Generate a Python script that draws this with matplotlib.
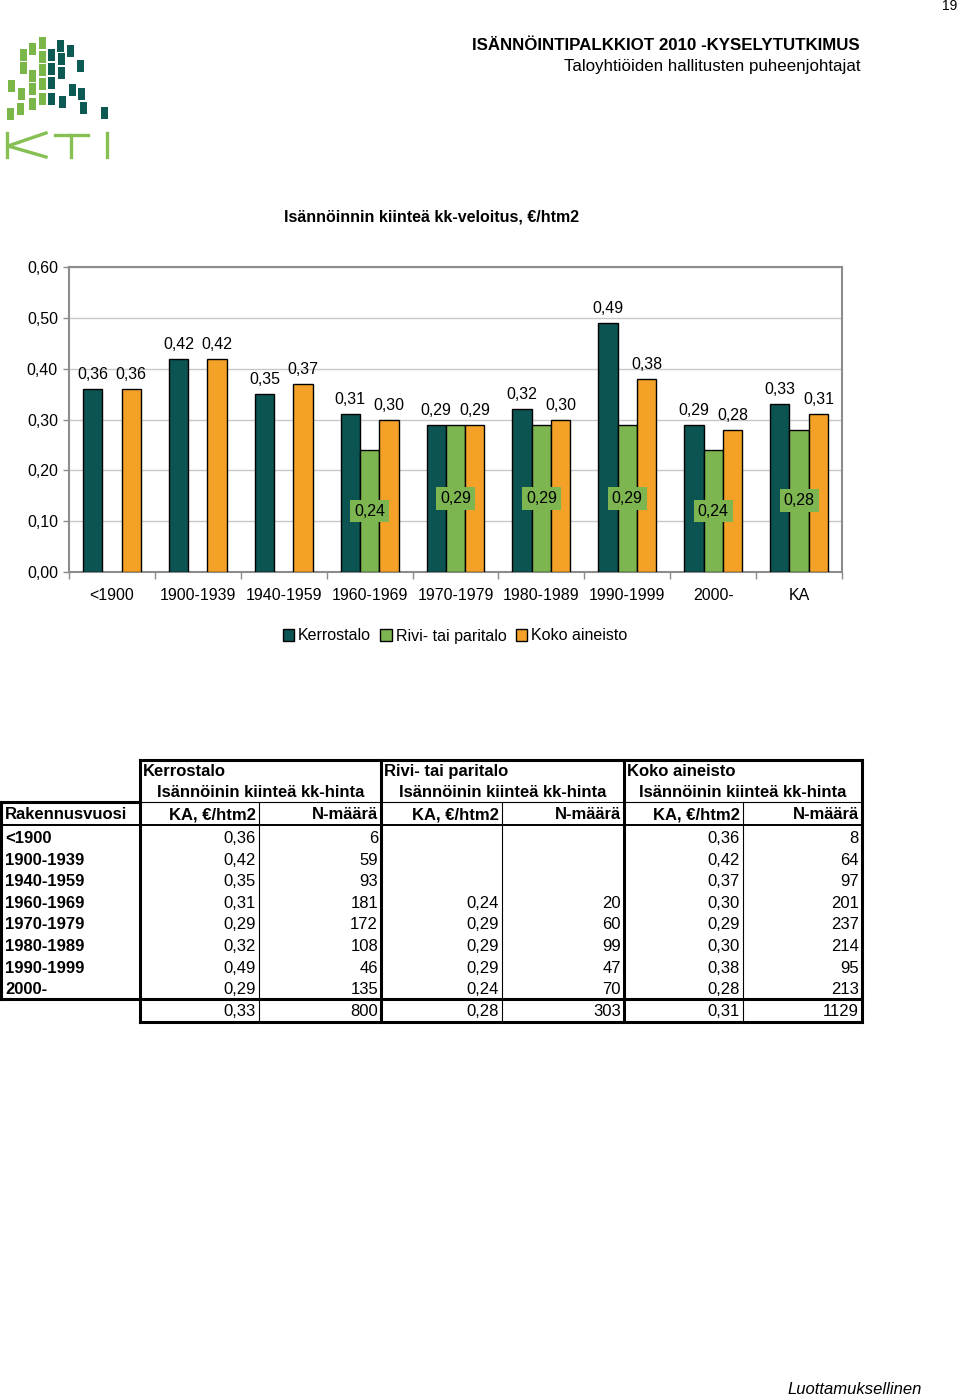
import matplotlib
matplotlib.use('Agg')
import matplotlib.pyplot as plt
from matplotlib.patches import Rectangle
import numpy as np

plt.rcParams['font.family'] = ['Liberation Sans', 'DejaVu Sans']

# --- data ---
periods = ['<1900', '1900-1939', '1940-1959', '1960-1969', '1970-1979',
           '1980-1989', '1990-1999', '2000-']
series = ['Kerrostalo', 'Rivi- tai paritalo', 'Koko aineisto']

kerros_ka = [0.36, 0.42, 0.35, 0.31, 0.29, 0.32, 0.49, 0.29]
kerros_n = [6, 59, 93, 181, 172, 108, 46, 135]
kerros_tot = [0.33, 800]
rivi_ka = [None, None, None, 0.24, 0.29, 0.29, 0.29, 0.24]
rivi_n = [None, None, None, 20, 60, 99, 47, 70]
rivi_tot = [0.28, 303]
koko_ka = [0.36, 0.42, 0.37, 0.30, 0.29, 0.30, 0.38, 0.28]
koko_n = [8, 64, 97, 201, 237, 214, 95, 213]
koko_tot = [0.31, 1129]

colors = ['#0b5452', '#7db550', '#f4a128']
grey = '#8c8c8c'

# chart = the periods plus the overall mean "KA"
categories = periods + ['KA']
chart_vals = [kerros_ka + [kerros_tot[0]],
              rivi_ka + [rivi_tot[0]],
              koko_ka + [koko_tot[0]]]


def fi(v):
    # finnish decimal comma
    return '{0:.2f}'.format(v).replace('.', ',')


W, H = 960, 1396
fig = plt.figure(figsize=(W / 100, H / 100), dpi=100)

# overlay in page pixels for header, logo and table
page = fig.add_axes([0, 0, 1, 1])
page.set_xlim(0, W)
page.set_ylim(H, 0)
page.axis('off')

page.text(957, 6, '19', ha='right', va='center', fontsize=10)
page.text(860, 45, 'ISÄNNÖINTIPALKKIOT 2010 -KYSELYTUTKIMUS', ha='right',
          va='center', fontsize=12.2, fontweight='bold')
page.text(860, 67, 'Taloyhtiöiden hallitusten puheenjohtajat', ha='right',
          va='center', fontsize=12.2)
page.text(922, 1389, 'Luottamuksellinen', ha='right', va='center',
          fontsize=12, style='italic')

# KTI logo, rough drawing of the squares and the thin letters
logo_green = [(39, 37), (29, 43), (20, 49), (39, 51), (20, 62), (39, 64),
              (29, 70), (8, 80), (39, 78), (29, 83), (18, 88), (39, 93),
              (29, 98), (17, 103), (7, 108)]
logo_dark = [(57, 40), (67, 45), (48, 49), (58, 53), (77, 60), (48, 63),
             (58, 67), (48, 77), (69, 84), (78, 88), (48, 93), (59, 96),
             (80, 102), (101, 107)]
for lx, ly in logo_green:
    page.add_patch(Rectangle((lx, ly), 7, 12, color='#7ab648', lw=0))
for lx, ly in logo_dark:
    page.add_patch(Rectangle((lx, ly), 7, 12, color='#0d5a55', lw=0))
lg = '#86bf52'
page.plot([7, 7], [133, 157], color=lg, lw=2.4)
page.plot([8, 46], [146, 133], color=lg, lw=2.4)
page.plot([8, 46], [146, 157], color=lg, lw=2.4)
page.plot([55, 88], [135, 135], color=lg, lw=2.4)
page.plot([71, 71], [135, 157], color=lg, lw=2.4)
page.plot([107, 107], [133, 157], color=lg, lw=2.4)

# --- bar chart ---
ax = fig.add_axes([69 / W, 1 - 572 / H, (842 - 69) / W, (572 - 267) / H])
x = np.arange(len(categories))
w = 0.225
for i, vals in enumerate(chart_vals):
    xs = [xi + (i - 1) * w for xi, v in zip(x, vals) if v is not None]
    ys = [v for v in vals if v is not None]
    bars = ax.bar(xs, ys, w, color=colors[i], edgecolor='black',
                  linewidth=1, label=series[i], zorder=3)
    for b, v in zip(bars, ys):
        cx = b.get_x() + w / 2
        if i == 1:
            ax.text(cx, v / 2, fi(v), ha='center', va='center',
                    fontsize=11.5, zorder=4,
                    bbox=dict(boxstyle='square,pad=0.25', fc=colors[1],
                              ec='none'))
        else:
            ax.annotate(fi(v), (cx, v), xytext=(0, 5),
                        textcoords='offset points', ha='center',
                        va='bottom', fontsize=11.5)

ax.set_xlim(-0.5, len(categories) - 0.5)
ax.set_ylim(0, 0.6)
yt = np.arange(0, 0.61, 0.1)
ax.set_yticks(yt)
ax.set_yticklabels([fi(v) for v in yt], fontsize=11.5)
ax.set_xticks(np.arange(-0.5, len(categories), 1))
ax.set_xticklabels([])
ax.set_xticks(x, minor=True)
ax.set_xticklabels(categories, minor=True, fontsize=11.5)
ax.tick_params(axis='x', which='major', length=5, color=grey, width=1)
ax.tick_params(axis='x', which='minor', length=0, pad=11.5)
ax.tick_params(axis='y', length=4, color=grey, width=1, pad=4)
ax.yaxis.grid(True, color='#c8c8c8', lw=1)
ax.set_axisbelow(True)
for s in ax.spines.values():
    s.set_color(grey)
    s.set_linewidth(1.5)

page.text(432, 217, 'Isännöinnin kiinteä kk-veloitus, €/htm2', ha='center',
          va='center', fontsize=11.5, fontweight='bold')

handles, labels = ax.get_legend_handles_labels()
fig.legend(handles, labels, loc='center',
           bbox_to_anchor=(455 / W, 1 - 636 / H), ncol=3, frameon=False,
           fontsize=11.5, handlelength=0.7, handleheight=0.7,
           handletextpad=0.25, columnspacing=0.6)

# --- table below the chart ---
thick, thin = 2.2, 0.8
col_x = [1, 140, 259, 381, 502, 624, 743, 862]
y_top, y_sub, y_head, y_body, y_tot = 760, 802, 825, 999, 1022


def hline(x0, x1, y, lw):
    page.plot([x0, x1], [y, y], color='black', lw=lw,
              solid_capstyle='projecting')


def vline(xp, y0, y1, lw):
    page.plot([xp, xp], [y0, y1], color='black', lw=lw,
              solid_capstyle='projecting')


hline(140, 862, y_top, thick)
hline(0, 140, y_sub, thick)
hline(140, 862, y_sub, thin)
hline(0, 862, y_head, 1.4)
hline(0, 862, y_body, thick)
hline(140, 862, y_tot, thick)
vline(1, y_sub, y_body, thick)
for xp in (140, 381, 624, 862):
    vline(xp, y_top, y_tot, thick)
for xp in (259, 502, 743):
    vline(xp, y_sub, y_tot, thin)


def cell(xp, yc, s, ha='right', bold=False):
    page.text(xp, yc + 6, s, ha=ha, va='baseline', fontsize=12,
              fontweight='bold' if bold else 'normal')


groups = [(series[0], kerros_ka, kerros_n, kerros_tot),
          (series[1], rivi_ka, rivi_n, rivi_tot),
          (series[2], koko_ka, koko_n, koko_tot)]
cell(5, 813, 'Rakennusvuosi', ha='left', bold=True)
row_y = [837 + r * 21.6 for r in range(len(periods))]
for r, p in enumerate(periods):
    cell(5, row_y[r], p, ha='left', bold=True)
for g, (name, ka, n, tot) in enumerate(groups):
    left, mid, right = col_x[1 + 2 * g], col_x[2 + 2 * g], col_x[3 + 2 * g]
    cell(left + 3, 770, name, ha='left', bold=True)
    cell((left + right) / 2, 791, 'Isännöinin kiinteä kk-hinta',
         ha='center', bold=True)
    cell(mid - 3, 813, 'KA, €/htm2', bold=True)
    cell(right - 3, 813, 'N-määrä', bold=True)
    for r in range(len(periods)):
        if ka[r] is not None:
            cell(mid - 3, row_y[r], fi(ka[r]))
            cell(right - 3, row_y[r], str(n[r]))
    cell(mid - 3, 1010, fi(tot[0]))
    cell(right - 3, 1010, str(tot[1]))

fig.savefig('out.png', dpi=100)
